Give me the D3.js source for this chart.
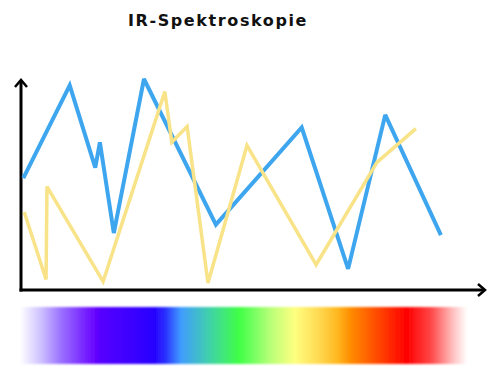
<!DOCTYPE html>
<html>
<head>
<meta charset="utf-8">
<script src="https://cdn.jsdelivr.net/npm/d3@7"></script>
<style>
  html, body { margin: 0; padding: 0; background: #fff; }
  svg { display: block; }
</style>
</head>
<body>
<svg id="chart" width="500" height="389"></svg>
<script>
// ---- data ----
const title = "IR-Spektroskopie";
const blueX = [0.5, 10.5, 16, 17, 20, 26.5, 42, 60.5, 70.5, 78.5, 90.5];
const blueY = [53, 97, 58, 70, 27, 100, 31, 77, 10, 83, 26];
const yellowX = [0.7, 5.4, 5.6, 17.7, 31, 32.5, 35.8, 40.3, 48.7, 63.6, 76.7, 85.1];
const yellowY = [37, 5, 49, 4, 94, 70, 77.5, 3.3, 68.5, 12, 60.5, 76.5];
const spectrumOffsets = [0, 0.045, 0.09, 0.165, 0.18, 0.3, 0.3, 0.325, 0.36, 0.425, 0.49, 0.52, 0.56, 0.615, 0.67, 0.71, 0.74, 0.865, 0.92, 0.965, 1];
const spectrumColors = ["#ffffff", "#d0c4ff", "#9c74ff", "#6a08ff", "#5600ff", "#2800ff", "#2800ff", "#2a30ff", "#3f9cff", "#40d2a8", "#40ff45", "#70ff60", "#b8ff78", "#ffff80", "#ffd850", "#ffb820", "#ff8c00", "#ff0000", "#ff4848", "#ffb8b8", "#ffffff"];

// ---- layout ----
const svg = d3.select("#chart");
const x = d3.scaleLinear().domain([0, 100]).range([21, 485]);
const y = d3.scaleLinear().domain([0, 100]).range([290, 79]);

svg.append("text")
  .attr("x", 218).attr("y", 26)
  .attr("text-anchor", "middle")
  .attr("font-family", "DejaVu Sans, sans-serif")
  .attr("font-weight", "bold")
  .attr("font-size", 16)
  .attr("letter-spacing", 1.6)
  .attr("fill", "#111")
  .text(title);

// axes with arrow heads
const axisG = svg.append("g").attr("stroke", "#000").attr("fill", "none")
  .attr("stroke-width", 3).attr("stroke-linecap", "butt");
axisG.append("line").attr("x1", x(0)).attr("y1", y(0) + 1.5).attr("x2", x(0)).attr("y2", 81);
axisG.append("line").attr("x1", x(0) - 1.5).attr("y1", y(0)).attr("x2", 483).attr("y2", y(0));
axisG.append("path").attr("stroke-width", 2.5).attr("stroke-linejoin", "miter")
  .attr("d", `M${x(0) - 6},${87} L${x(0)},${80} L${x(0) + 6},${87}`);
axisG.append("path").attr("stroke-width", 2.5).attr("stroke-linejoin", "miter")
  .attr("d", `M${478},${y(0) - 6} L${485},${y(0)} L${478},${y(0) + 6}`);

// lines
const line = d3.line().x(d => x(d[0])).y(d => y(d[1]));
const yellow = yellowX.map((v, i) => [v, yellowY[i]]);
const blue = blueX.map((v, i) => [v, blueY[i]]);

svg.append("path").datum(blue)
  .attr("d", line).attr("fill", "none")
  .attr("stroke", "#3ea6ef").attr("stroke-width", 4)
  .attr("stroke-linejoin", "miter").attr("stroke-miterlimit", 3);
svg.append("path").datum(yellow)
  .attr("d", line).attr("fill", "none")
  .attr("stroke", "#f8e388").attr("stroke-width", 3.5)
  .attr("stroke-linejoin", "miter").attr("stroke-miterlimit", 3);

// spectrum bar
const defs = svg.append("defs");
const grad = defs.append("linearGradient").attr("id", "spec")
  .attr("x1", "0%").attr("x2", "100%").attr("y1", "0%").attr("y2", "0%");
spectrumOffsets.forEach((o, i) => {
  grad.append("stop").attr("offset", o).attr("stop-color", spectrumColors[i]);
});
const blur = defs.append("filter").attr("id", "soft")
  .attr("x", "-5%").attr("y", "-20%").attr("width", "110%").attr("height", "140%");
blur.append("feGaussianBlur").attr("stdDeviation", "0.8");

svg.append("rect")
  .attr("x", 20).attr("y", 307).attr("width", 447).attr("height", 57)
  .attr("fill", "url(#spec)").attr("filter", "url(#soft)");
</script>
</body>
</html>
